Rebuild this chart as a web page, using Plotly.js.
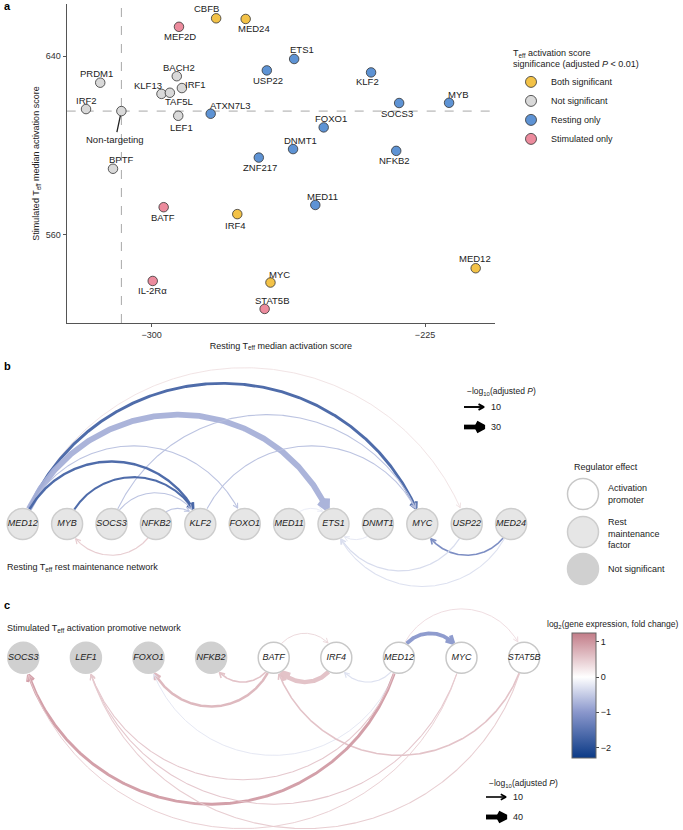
<!DOCTYPE html>
<html><head><meta charset="utf-8">
<script src="https://cdn.plot.ly/plotly-3.0.1.min.js"></script>
<style>body{margin:0;background:#fff}#chart{width:683px;height:830px}</style>
</head><body><div id="chart"></div>
<script>
// ---------- Panel a data ----------
const genes = ['CBFB','MED24','MEF2D','ETS1','USP22','KLF2','BACH2','PRDM1','IRF1','KLF13','TAF5L','SOCS3','MYB','IRF2','Non-targeting','ATXN7L3','LEF1','FOXO1','DNMT1','NFKB2','ZNF217','BPTF','MED11','BATF','IRF4','MED12','IL-2Rα','MYC','STAT5B'];
const restingScore = [-282.3,-274.2,-292.5,-260.9,-268.4,-239.8,-293.1,-314.1,-291.7,-297.3,-295.0,-232.1,-218.4,-318.0,-308.3,-283.8,-292.7,-252.8,-261.2,-232.9,-270.6,-310.6,-255.1,-296.7,-276.5,-211.1,-299.7,-267.4,-269.0];
const stimulatedScore = [656.9,656.6,653.1,638.7,633.6,632.7,631.0,628.1,625.7,623.1,623.6,619.0,619.1,616.3,615.4,614.2,613.3,608.1,598.4,597.6,594.6,589.6,573.4,572.4,569.3,545.1,539.4,538.7,526.9];
const significance = ['Both significant','Both significant','Stimulated only','Resting only','Resting only','Resting only','Not significant','Not significant','Not significant','Not significant','Not significant','Resting only','Resting only','Not significant','Not significant','Resting only','Not significant','Resting only','Resting only','Resting only','Resting only','Not significant','Resting only','Stimulated only','Both significant','Both significant','Stimulated only','Both significant','Stimulated only'];
const sigCategories = ['Both significant','Not significant','Resting only','Stimulated only'];
const xTicks = [-300,-225];
const yTicks = [560,640];

// ---------- Panel b data ----------
const nodesB = ['MED12','MYB','SOCS3','NFKB2','KLF2','FOXO1','MED11','ETS1','DNMT1','MYC','USP22','MED24'];
const effectB = ['Rest maintenance factor','Rest maintenance factor','Rest maintenance factor','Rest maintenance factor','Rest maintenance factor','Rest maintenance factor','Rest maintenance factor','Rest maintenance factor','Rest maintenance factor','Rest maintenance factor','Rest maintenance factor','Rest maintenance factor'];
const bSource = ['MED12','MED12','MED12','SOCS3','KLF2','MED12','MED12','MYB','SOCS3','NFKB2','MED11','NFKB2','MED24','USP22','MED24','DNMT1'];
const bTarget = ['USP22','MYC','ETS1','MYC','MYC','FOXO1','KLF2','KLF2','KLF2','KLF2','ETS1','MYB','MYC','ETS1','ETS1','ETS1'];
const bLogP   = [3,17,38,4,4,4,14,11,4,4,3,5,8,5,4,3];
const bLog2FC = [0.3,-1.7,-0.75,-0.6,-0.6,-0.6,-1.7,-1.7,-0.6,-0.6,-0.2,0.5,-1.2,-0.35,-0.3,-0.25];
const bSide   = ['up','up','up','up','up','up','up','up','up','up','up','down','down','down','down','down'];
const bLegendP = [10,30];

// ---------- Panel c data ----------
const nodesC = ['SOCS3','LEF1','FOXO1','NFKB2','BATF','IRF4','MED12','MYC','STAT5B'];
const effectC = ['Not significant','Not significant','Not significant','Not significant','Activation promoter','Activation promoter','Activation promoter','Activation promoter','Activation promoter'];
const cSource = ['BATF','MED12','MED12','BATF','IRF4','MED12','BATF','MED12','STAT5B','MED12','MED12','MYC','MYC','STAT5B'];
const cTarget = ['IRF4','MYC','STAT5B','NFKB2','BATF','IRF4','FOXO1','FOXO1','BATF','SOCS3','LEF1','LEF1','SOCS3','LEF1'];
const cLogP   = [4,30,4,10,36,6,18,4,10,22,5,5,4,5];
const cLog2FC = [0.4,-1.0,0.35,0.6,0.6,-0.3,0.7,-0.25,0.6,0.95,0.55,0.55,0.5,0.5];
const cSide   = ['up','up','up','down','down','down','down','down','down','down','down','down','down','down'];
const cLegendP = [10,40];
const fcTicks = [1,0,-1,-2];

// ---------- styles ----------
const FONT = 'Liberation Sans, Arial, Helvetica, sans-serif';
const sigColors = {'Both significant':'#F3C247','Not significant':'#D9D9D9','Resting only':'#5E93D4','Stimulated only':'#EC8B9D'};
// label offsets in screen pixels (dx right, dy down)
const labelOffset = {'CBFB':[-10,-9.5],'MED24':[8,10],'MEF2D':[1,9.5],'ETS1':[8,-9],'USP22':[1,10],'KLF2':[-4,9.5],'BACH2':[2,-8.5],'PRDM1':[-4,-9],'IRF1':[14,-4],'KLF13':[-13,-8],'TAF5L':[9,9],'SOCS3':[-2,10],'MYB':[9,-8.5],'IRF2':[0,-9],'ATXN7L3':[19,-8],'LEF1':[3,12],'FOXO1':[7.5,-8.5],'DNMT1':[7.5,-8.5],'NFKB2':[-2,10],'ZNF217':[1,10],'BPTF':[8,-9],'MED11':[7,-8.5],'BATF':[-1,10],'IRF4':[-2,11],'MED12':[-1,-9.5],'IL-2Rα':[0,10],'MYC':[9,-8.5],'STAT5B':[8,-8.5]};
const CMIN = -2.3, CMAX = 1.25;
const colorStops = [[0,'#0b3a86'],[0.366,'#8a97cc'],[0.648,'#ffffff'],[1,'#c27c88']];
function hex2rgb(h){return [parseInt(h.slice(1,3),16),parseInt(h.slice(3,5),16),parseInt(h.slice(5,7),16)];}
function fcColor(v){
  let t=(v-CMIN)/(CMAX-CMIN); t=Math.max(0,Math.min(1,t));
  for(let i=0;i<colorStops.length-1;i++){
    const [t0,c0]=colorStops[i],[t1,c1]=colorStops[i+1];
    if(t>=t0&&t<=t1){const f=(t-t0)/(t1-t0);const a=hex2rgb(c0),b=hex2rgb(c1);
      return 'rgb('+a.map((x,k)=>Math.round(x+(b[k]-x)*f)).join(',')+')';}
  }
  return colorStops[colorStops.length-1][1];
}

const traces = [];
// ---------- Panel a traces ----------
sigCategories.forEach(cat=>{
  const idx = genes.map((g,i)=>i).filter(i=>significance[i]===cat);
  traces.push({
    type:'scatter', mode:'markers', name:cat, xaxis:'x', yaxis:'y', showlegend:false,
    x: idx.map(i=>restingScore[i]), y: idx.map(i=>stimulatedScore[i]),
    marker:{size:9.5,color:sigColors[cat],line:{color:'#333',width:0.8}},
    cliponaxis:false, hoverinfo:'skip'
  });
});
// legend entries (larger symbols, as in the reference legend)
sigCategories.forEach(cat=>{
  traces.push({type:'scatter',mode:'markers',name:cat,xaxis:'x',yaxis:'y',x:[null],y:[null],showlegend:true,
    marker:{size:11,color:sigColors[cat],line:{color:'#333',width:0.8}},hoverinfo:'skip'});
});

// ---------- network helpers (pixel overlay axes x2/y2) ----------
const R_NODE = 15.5;
function chevron(tx,ty,dx,dy,L){
  const n=Math.hypot(dx,dy); dx/=n; dy/=n;
  const ang=28*Math.PI/180, res=[];
  [ang,-ang].forEach(s=>{
    const rx=dx*Math.cos(s)-dy*Math.sin(s), ry=dx*Math.sin(s)+dy*Math.cos(s);
    res.push([tx-L*rx, ty-L*ry]);
  });
  return res;
}
// circular arc between node centres, clipped at the node circles
function edgeTraces(nodes,nodeX,cy,src,tgt,logp,fc,side,wfun,k){
  src.forEach((s,i)=>{
    const si=nodes.indexOf(s), ti=nodes.indexOf(tgt[i]);
    const up=side[i]==='up';
    const sx=nodeX(si), tx=nodeX(ti);
    const c=Math.abs(tx-sx), mx=(sx+tx)/2, h=k*c;
    const R=(h*h+c*c/4)/(2*h);
    const ccy = up ? cy+(R-h) : cy-(R-h);
    const a0=Math.atan2(cy-ccy,sx-mx), a1=Math.atan2(cy-ccy,tx-mx);
    const xs=[],ys=[];
    const N=400;
    for(let j=0;j<=N;j++){
      const a=a0+(a1-a0)*j/N, px=mx+R*Math.cos(a), py=ccy+R*Math.sin(a);
      if(Math.hypot(px-sx,py-cy)>R_NODE+0.5 && Math.hypot(px-tx,py-cy)>R_NODE+1.2){xs.push(px);ys.push(py);}
    }
    const w=wfun(logp[i]);
    const n=xs.length;
    const L=4.5+0.9*w;
    const b=Math.min(6,n-1);
    const wing=chevron(xs[n-1],ys[n-1],xs[n-1]-xs[n-1-b],ys[n-1]-ys[n-1-b],L);
    traces.push({type:'scatter',mode:'lines',xaxis:'x2',yaxis:'y2',showlegend:false,hoverinfo:'skip',
      x:xs.concat([null,wing[0][0],xs[n-1],wing[1][0]]),
      y:ys.concat([null,wing[0][1],ys[n-1],wing[1][1]]),
      line:{color:fcColor(fc[i]),width:w},opacity:0.95});
  });
}
const nodeStyle = {
  'Activation promoter':{fill:'#ffffff',line:'#c8c8c8'},
  'Rest maintenance factor':{fill:'#e6e6e6',line:'#cdcdcd'},
  'Not significant':{fill:'#d0d0d0',line:'#d0d0d0'}
};
function nodeTrace(nodes,effects,nodeX,cy){
  traces.push({type:'scatter',mode:'markers+text',xaxis:'x2',yaxis:'y2',showlegend:false,hoverinfo:'skip',
    x:nodes.map((n,i)=>nodeX(i)), y:nodes.map(()=>cy),
    text:nodes.map(n=>'<i>'+n+'</i>'), textposition:'middle center',
    textfont:{family:FONT,size:9,color:'#222'},
    marker:{size:2*R_NODE,color:effects.map(e=>nodeStyle[e].fill),line:{color:effects.map(e=>nodeStyle[e].line),width:1.5}},
    cliponaxis:false});
}
function legendArrow(x0,x1,y,w){
  const L=4.5+0.9*w;
  const wing=chevron(x1,y,1,0,L);
  traces.push({type:'scatter',mode:'lines',xaxis:'x2',yaxis:'y2',showlegend:false,hoverinfo:'skip',
    x:[x0,x1,null,wing[0][0],x1,wing[1][0]], y:[y,y,null,wing[0][1],y,wing[1][1]],
    line:{color:'#000',width:w}});
}

// Panel b
const bX = i=>22.7+i*44.4, bY = 524;
const wB = p=>0.5+0.14*p;
edgeTraces(nodesB,bX,bY,bSource,bTarget,bLogP,bLog2FC,bSide,wB,0.352);
nodeTrace(nodesB,effectB,bX,bY);
legendArrow(464,484,407,wB(bLegendP[0]));
legendArrow(464,484,427,wB(bLegendP[1]));
const effectsLegend = ['Activation promoter','Rest maintenance factor','Not significant'];
traces.push({type:'scatter',mode:'markers',xaxis:'x2',yaxis:'y2',showlegend:false,hoverinfo:'skip',
  x:[583,583,583], y:[494,532,569],
  marker:{size:31,color:effectsLegend.map(e=>nodeStyle[e].fill),line:{color:effectsLegend.map(e=>nodeStyle[e].line),width:1.5}}});

// Panel c
const cX = i=>23.3+i*62.6, cY = 657.7;
const wC = p=>0.5+0.11*p;
edgeTraces(nodesC,cX,cY,cSource,cTarget,cLogP,cLog2FC,cSide,wC,0.39);
nodeTrace(nodesC,effectC,cX,cY);
legendArrow(486,506,797,wC(cLegendP[0]));
legendArrow(486,506,817,wC(cLegendP[1]));

// colorbar holder
traces.push({type:'scatter',mode:'markers',xaxis:'x2',yaxis:'y2',showlegend:false,hoverinfo:'skip',
  x:cLog2FC.map(()=>-50), y:cLog2FC.map(()=>-50),
  marker:{size:1,opacity:0,color:cLog2FC,cmin:CMIN,cmax:CMAX,colorscale:colorStops,showscale:true,
    colorbar:{x:572/683,xanchor:'left',xref:'paper',y:1-695.5/830,yanchor:'middle',yref:'paper',
      len:125,lenmode:'pixels',thickness:24,thicknessmode:'pixels',xpad:0,ypad:0,
      outlinewidth:1,outlinecolor:'#666',tickvals:fcTicks,ticktext:fcTicks.map(v=>v<0?'−'+Math.abs(v):String(v)),
      ticks:'outside',ticklen:3,tickcolor:'#444',tickfont:{family:FONT,size:9,color:'#222'}}}
});

// ---------- annotations ----------
function txt(x,y,text,opt){return Object.assign({xref:'x2',yref:'y2',x:x,y:y,text:text,showarrow:false,xanchor:'left',yanchor:'middle',align:'left',font:{family:FONT,size:9,color:'#222'}},opt||{});}
const ntIdx = genes.indexOf('Non-targeting');
const annotations = [
  txt(2,6,'<b>a</b>',{font:{family:FONT,size:11,color:'#000'}}),
  txt(2,366,'<b>b</b>',{font:{family:FONT,size:11,color:'#000'}}),
  txt(2,605,'<b>c</b>',{font:{family:FONT,size:11,color:'#000'}}),
  {xref:'x',yref:'y',x:restingScore[ntIdx],y:stimulatedScore[ntIdx],text:'Non-targeting',showarrow:true,arrowhead:0,
   ax:-6,ay:28,standoff:5,arrowwidth:1.3,arrowcolor:'#222',font:{family:FONT,size:9.5,color:'#222'}},
  txt(465,391,'−log<sub>10</sub>(adjusted <i>P</i>)',{font:{family:FONT,size:8.5,color:'#222'}}),
  txt(489,407,String(bLegendP[0])),
  txt(489,427,String(bLegendP[1])),
  txt(572,467,'Regulator effect'),
  txt(606,494,'Activation<br>promoter'),
  txt(606,533,'Rest<br>maintenance<br>factor'),
  txt(606,569,'Not significant'),
  txt(5,567,'Resting T<sub>eff</sub> rest maintenance network'),
  txt(5,628,'Stimulated T<sub>eff</sub> activation promotive network'),
  txt(545,624,'log<sub>2</sub>(gene expression, fold change)',{font:{family:FONT,size:8.5,color:'#222'}}),
  txt(487,783,'−log<sub>10</sub>(adjusted <i>P</i>)',{font:{family:FONT,size:8.5,color:'#222'}}),
  txt(511,797,String(cLegendP[0])),
  txt(511,817,String(cLegendP[1]))
];
genes.forEach((g,i)=>{
  if(g==='Non-targeting') return;
  const off=labelOffset[g];
  annotations.push({xref:'x',yref:'y',x:restingScore[i],y:stimulatedScore[i],text:g,showarrow:false,
    xanchor:'center',yanchor:'middle',xshift:off[0],yshift:-off[1],font:{family:FONT,size:9.5,color:'#222'}});
});

const axisBase = {showgrid:false,zeroline:false,showline:true,linecolor:'#555',linewidth:1,ticks:'outside',ticklen:3,tickcolor:'#555',
  tickfont:{family:FONT,size:9,color:'#333'}};
const layout = {
  width:683,height:830,margin:{l:0,r:0,t:0,b:0},paper_bgcolor:'#fff',plot_bgcolor:'rgba(0,0,0,0)',
  font:{family:FONT,size:9,color:'#222'},
  xaxis:Object.assign({},axisBase,{domain:[66.7/683,495/683],range:[-323.3,-205.8],tickvals:xTicks,ticktext:xTicks.map(v=>'−'+Math.abs(v)),
    title:{text:'Resting T<sub>eff</sub> median activation score',font:{family:FONT,size:9,color:'#222'},standoff:3}}),
  yaxis:Object.assign({},axisBase,{domain:[1-323/830,1-4/830],range:[520.6,663.3],tickvals:yTicks,
    title:{text:'Stimulated T<sub>eff</sub> median activation score',font:{family:FONT,size:9,color:'#222'},standoff:4}}),
  xaxis2:{domain:[0,1],range:[0,683],visible:false,fixedrange:true,anchor:'y2'},
  yaxis2:{domain:[0,1],range:[830,0],visible:false,fixedrange:true,anchor:'x2'},
  shapes:[
    {type:'line',xref:'x',yref:'y domain',x0:restingScore[ntIdx],x1:restingScore[ntIdx],y0:0,y1:1,line:{color:'#a8a8a8',width:1,dash:'dash'},layer:'below'},
    {type:'line',xref:'x domain',yref:'y',x0:0,x1:1,y0:stimulatedScore[ntIdx],y1:stimulatedScore[ntIdx],line:{color:'#a8a8a8',width:1,dash:'dash'},layer:'below'}
  ],
  legend:{x:511/683,y:1-44/830,xanchor:'left',yanchor:'top',bgcolor:'rgba(0,0,0,0)',
    title:{text:'T<sub>eff</sub> activation score<br>significance (adjusted <i>P</i> &lt; 0.01)',font:{family:FONT,size:9,color:'#222'}},
    font:{family:FONT,size:9,color:'#222'},itemsizing:'trace',tracegroupgap:0},
  annotations:annotations,
  showlegend:true
};
Plotly.newPlot('chart',traces,layout,{staticPlot:true,displayModeBar:false});
</script></body></html>
